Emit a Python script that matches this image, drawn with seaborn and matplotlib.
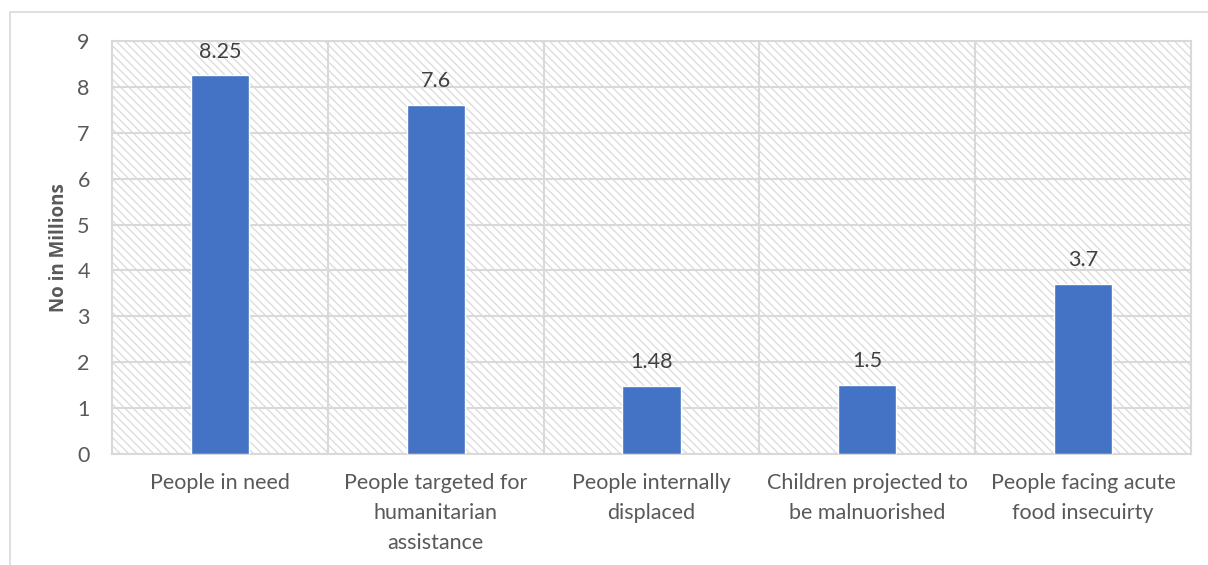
import matplotlib
matplotlib.use("Agg")
import matplotlib.pyplot as plt
import seaborn as sns
import pandas as pd
from matplotlib.patches import Rectangle

categories = [
    "People in need",
    "People targeted for\nhumanitarian\nassistance",
    "People internally\ndisplaced",
    "Children projected to\nbe malnuorished",
    "People facing acute\nfood insecuirty",
]
values = [8.25, 7.6, 1.48, 1.5, 3.7]
value_labels = ["8.25", "7.6", "1.48", "1.5", "3.7"]
y_ticks = [0, 1, 2, 3, 4, 5, 6, 7, 8, 9]

sns.set_theme(style="white")
plt.rcParams["font.family"] = ["Lato", "DejaVu Sans"]
plt.rcParams["hatch.linewidth"] = 0.9

GRID = "#d9d9d9"
TEXT = "#595959"
BAR = "#4472c4"

df = pd.DataFrame({"category": categories, "value": values})

fig = plt.figure(figsize=(12.08, 5.65), dpi=100)
W, H = 1208, 565
ax = fig.add_axes([112 / W, 1 - 454 / H, (1191 - 112) / W, (454 - 41) / H])

# hatched plot-area background
bg = Rectangle((0, 0), 1, 1, transform=ax.transAxes, facecolor="white",
               edgecolor="#dadada", hatch="\\\\\\\\", linewidth=0, zorder=0.1)
ax.add_patch(bg)

sns.barplot(data=df, x="category", y="value", color=BAR, width=0.27,
            saturation=1, ax=ax, zorder=3)

ax.set_ylim(0, 9)
ax.set_xlim(-0.5, len(categories) - 0.5)
ax.set_yticks(y_ticks)
ax.set_yticklabels([str(t) for t in y_ticks])

# gridlines: horizontal at each unit, vertical between categories
for t in y_ticks:
    ax.axhline(t, color=GRID, lw=1.5, zorder=1)
for b in [i + 0.5 for i in range(len(categories) - 1)]:
    ax.axvline(b, color=GRID, lw=1.5, zorder=1)

for s in ax.spines.values():
    s.set_visible(True)
    s.set_color(GRID)
    s.set_linewidth(1.5)

ax.tick_params(axis="both", length=0, colors=TEXT, labelsize=15.5)
ax.tick_params(axis="y", pad=16)
ax.tick_params(axis="x", pad=14)
for lbl in ax.get_xticklabels():
    lbl.set_linespacing(1.6)

ax.set_xlabel("")
ax.set_ylabel("No in Millions", fontsize=13.5, fontweight="bold", color=TEXT,
              labelpad=6, family=["Open Sans", "DejaVu Sans"])

for i, (v, txt) in enumerate(zip(values, value_labels)):
    ax.annotate(txt, (i, v), xytext=(0, 10), textcoords="offset points",
                ha="center", va="bottom", fontsize=15.5, color="#404040")

# chart frame
fig.patches.append(Rectangle((10 / W, -0.05), 1.1, 1 - 12 / H + 0.05,
                             transform=fig.transFigure, fill=False,
                             edgecolor=GRID, linewidth=1.2))

fig.savefig("out.png", dpi=100, facecolor="white")
